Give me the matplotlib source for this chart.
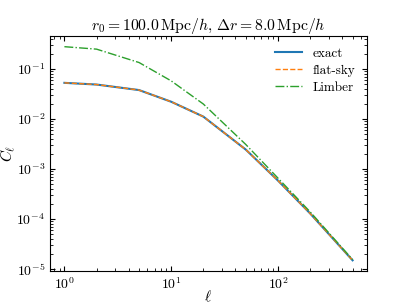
import matplotlib
matplotlib.use("Agg")
import matplotlib.pyplot as plt

plt.rcParams['font.family'] = 'serif'
plt.rcParams['font.serif'] = ['cmr10']
plt.rcParams['mathtext.fontset'] = 'cm'
plt.rcParams['axes.formatter.use_mathtext'] = True
plt.rcParams['axes.unicode_minus'] = False
plt.rcParams['font.size'] = 10

ell = [1, 2, 5, 10, 20, 50, 100, 200, 500]
exact = [0.053, 0.049, 0.038, 0.0222, 0.0112, 0.00245, 5.9e-4, 1.3e-4, 1.5e-5]
flatsky = [0.053, 0.049, 0.038, 0.0222, 0.0112, 0.00245, 5.9e-4, 1.3e-4, 1.5e-5]
limber = [0.28, 0.25, 0.135, 0.058, 0.020, 0.0031, 6.6e-4, 1.4e-4, 1.55e-5]

fig = plt.figure(figsize=(4.07, 3.05), dpi=100)
ax = fig.add_axes([50/407, 1 - 271/305, 317/407, 235/305])
ax.plot(ell, exact, '-', color='C0', lw=1.5, label='exact')
ax.plot(ell, flatsky, '--', color='C1', lw=1.0, label='flat-sky')
ax.plot(ell, limber, '-.', color='C2', lw=1.0, label='Limber')
ax.set_xscale('log')
ax.set_yscale('log')
ax.set_xlabel(r'$\ell$', fontsize=11)
ax.set_ylabel(r'$C_\ell$', fontsize=11)
ax.xaxis.set_label_coords(0.5, -0.078)
ax.yaxis.set_label_coords(-0.1, 0.5)
ax.set_title(r'$r_0 = 100.0\,\mathrm{Mpc}/h$, $\Delta r = 8.0\,\mathrm{Mpc}/h$', fontsize=11.3, pad=3)
ax.tick_params(which='both', direction='in', top=True, right=True)
ax.legend(frameon=False, loc='upper right', handlelength=2.0, fontsize=9.5, labelspacing=0.35)
fig.savefig('out.png', dpi=100)
